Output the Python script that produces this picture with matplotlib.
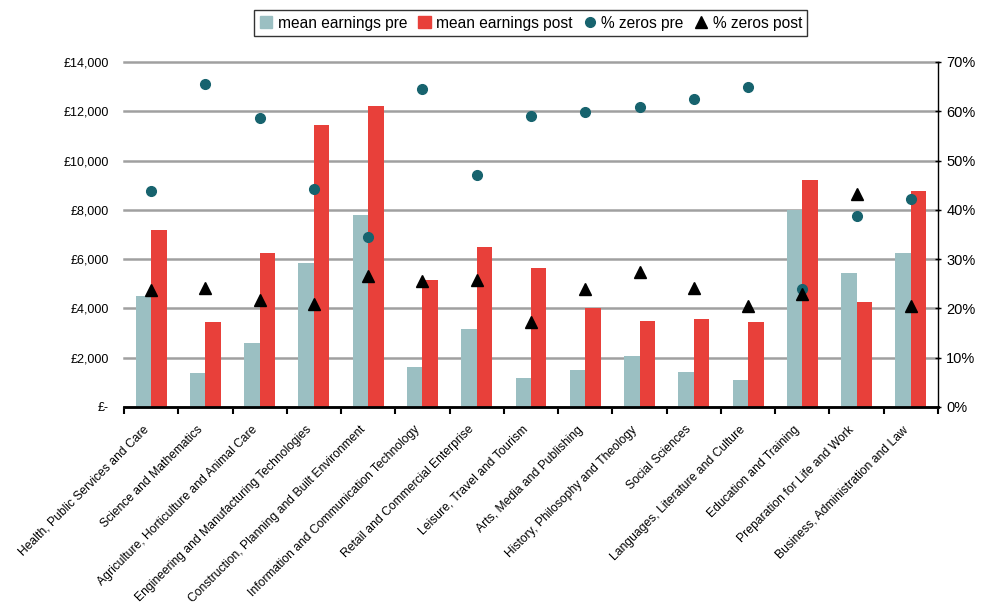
import numpy as np
import matplotlib
matplotlib.use('Agg')
from matplotlib import pyplot as plt
from matplotlib.lines import Line2D
from matplotlib.patches import Patch

plt.rcParams['font.family'] = ['Liberation Sans', 'DejaVu Sans']

categories = ['Health, Public Services and Care', 'Science and Mathematics',
              'Agriculture, Horticulture and Animal Care',
              'Engineering and Manufacturing Technologies',
              'Construction, Planning and Built Environment',
              'Information and Communication Technology',
              'Retail and Commercial Enterprise', 'Leisure, Travel and Tourism',
              'Arts, Media and Publishing', 'History, Philosophy and Theology',
              'Social Sciences', 'Languages, Literature and Culture',
              'Education and Training', 'Preparation for Life and Work',
              'Business, Administration and Law']
earn_pre = [4500, 1390, 2610, 5860, 7790, 1640, 3170, 1180, 1500, 2070, 1420, 1100, 7990, 5440, 6250]
earn_post = [7180, 3450, 6260, 11440, 12210, 5150, 6490, 5640, 4030, 3490, 3570, 3450, 9210, 4260, 8760]
zero_pre = [43.8, 65.5, 58.6, 44.2, 34.4, 64.6, 47.1, 59.0, 59.8, 60.9, 62.4, 65.0, 23.9, 38.8, 42.3]
zero_post = [23.7, 24.1, 21.7, 20.8, 26.6, 25.6, 25.8, 17.3, 23.9, 27.3, 24.1, 20.5, 22.9, 43.2, 20.4]

c_pre = '#9bbfc2'
c_post = '#e8403a'
c_dot = '#17636e'

fig = plt.figure(figsize=(9.85, 6.06), dpi=100)
ax = fig.add_axes([0.1259, 0.3284, 0.8264, 0.5693])
x = np.arange(len(categories))
w = 0.285
ax.bar(x - w/2, earn_pre, w, color=c_pre, zorder=2)
ax.bar(x + w/2, earn_post, w, color=c_post, zorder=2)
ax.set_xlim(-0.5, len(categories) - 0.5)
ax.set_ylim(0, 14000)
ax.set_yticks(np.arange(0, 14001, 2000))
ax.set_yticklabels(['£-'] + ['£{:,}'.format(v) for v in range(2000, 14001, 2000)], fontsize=9)
ax.yaxis.grid(True, color='#a0a0a0', linewidth=1.8, zorder=0)
for gl in ax.get_ygridlines():
    gl.set_clip_on(False)
ax.set_axisbelow(True)
ax.tick_params(axis='y', length=0, pad=11)
# labels sit a bit left of the group centre, like the original
ax.set_xticks(x - 0.16)
ax.set_xticklabels(categories, rotation=45, ha='right', rotation_mode='anchor', fontsize=8.7)
ax.set_xticks(np.arange(-0.5, len(categories)), minor=True)
ax.tick_params(axis='x', which='major', length=0, pad=12)
ax.tick_params(axis='x', which='minor', length=5, width=1.5, direction='out')
for s in ['top', 'left', 'right']:
    ax.spines[s].set_visible(False)
ax.spines['bottom'].set_linewidth(2)

ax2 = ax.twinx()
ax2.plot(x, zero_pre, 'o', color=c_dot, markersize=7, zorder=3)
ax2.plot(x, zero_post, '^', color='black', markersize=8, zorder=3)
ax2.set_ylim(0, 70)
ax2.set_yticks(np.arange(0, 71, 10))
ax2.set_yticklabels(['{}%'.format(v) for v in range(0, 71, 10)], fontsize=10.5)
ax2.tick_params(axis='y', length=5, width=1, direction='inout')
for s in ['top', 'left', 'bottom']:
    ax2.spines[s].set_visible(False)
ax2.spines['right'].set_linewidth(1)

handles = [Patch(color=c_pre, label='mean earnings pre'),
           Patch(color=c_post, label='mean earnings post'),
           Line2D([], [], marker='o', color=c_dot, linestyle='', markersize=7, label='% zeros pre'),
           Line2D([], [], marker='^', color='black', linestyle='', markersize=8, label='% zeros post')]
leg = fig.legend(handles=handles, loc='center', bbox_to_anchor=(0.539, 0.962), ncol=4,
                 fontsize=11.2, frameon=True, fancybox=False, edgecolor='black',
                 handlelength=0.8, handleheight=0.8, handletextpad=0.35, columnspacing=0.7,
                 borderpad=0.35)
leg.get_frame().set_linewidth(1)

fig.savefig('out.png', dpi=100)
